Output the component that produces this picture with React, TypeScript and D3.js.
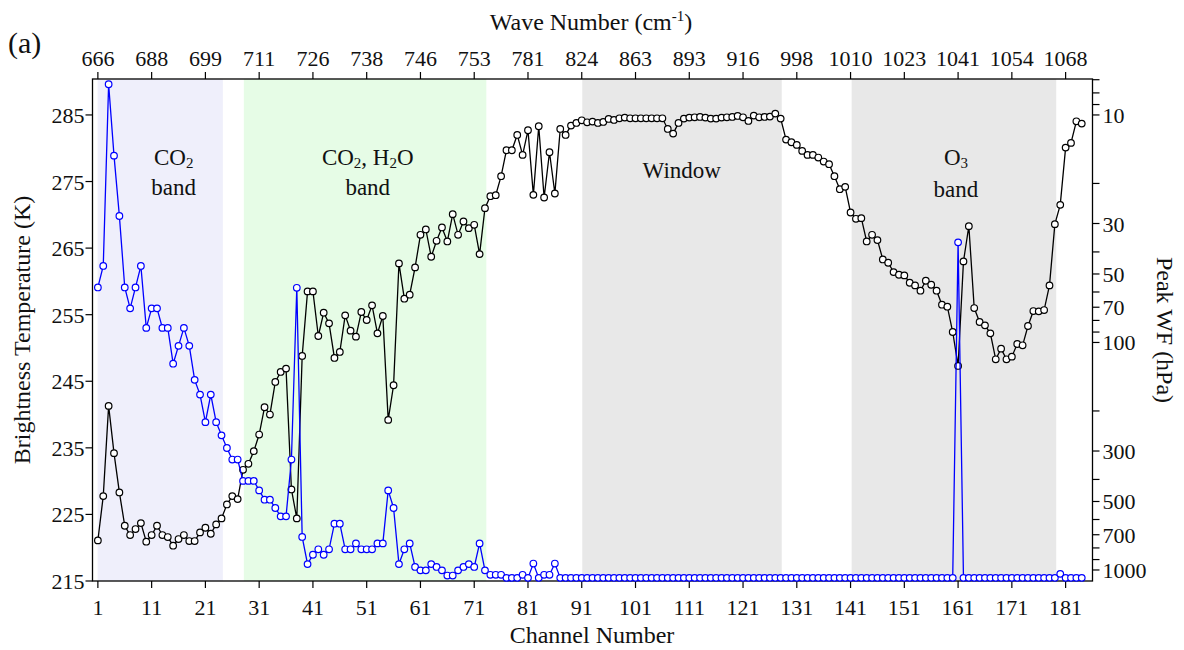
import React from "react";
import * as d3 from "d3";

// ---------- data ----------
const channels: number[] = d3.range(1, 185);

const brightnessTemp: number[] = [
  221.1, 227.75, 241.3, 234.2, 228.3, 223.3, 221.9, 222.8, 223.7, 220.9,
  221.9, 223.3, 221.9, 221.6, 220.3, 221.3, 221.9, 221.0, 221.0, 222.3,
  223.0, 222.1, 223.5, 224.4, 226.5, 227.75, 227.3, 231.7, 232.6, 234.5,
  237.0, 241.1, 240.0, 244.9, 246.4, 246.9, 228.75, 224.4, 248.8, 258.5,
  258.5, 251.8, 255.3, 253.7, 248.5, 249.4, 254.9, 252.6, 251.7, 255.4,
  254.2, 256.4, 252.2, 254.8, 239.2, 244.4, 262.7, 257.4, 258.0, 262.1,
  267.0, 267.8, 263.7, 266.1, 268.1, 266.0, 270.1, 267.0, 269.0, 268.0,
  268.5, 264.1, 271.0, 272.8, 272.95, 275.8, 279.7, 279.7, 282.0, 279.0,
  282.7, 273.0, 283.3, 272.6, 279.4, 273.2, 282.9, 282.0, 283.4, 283.8,
  284.2, 283.9, 284.0, 283.8, 283.95, 284.4, 284.25, 284.5, 284.6, 284.5,
  284.5, 284.5, 284.5, 284.5, 284.5, 284.5, 282.9, 282.2, 283.8, 284.45,
  284.6, 284.65, 284.7, 284.6, 284.45, 284.45, 284.6, 284.65, 284.7, 284.85,
  284.65, 284.1, 284.9, 284.65, 284.7, 284.75, 285.2, 284.45, 281.3, 280.9,
  280.5, 279.6, 279.0, 279.0, 278.6, 278.0, 277.6, 275.8, 273.85, 274.2,
  270.35, 269.4, 269.5, 266.0, 267.0, 266.2, 263.3, 262.8, 261.4, 261.0,
  260.9, 259.8, 259.4, 258.6, 260.1, 259.5, 258.6, 256.5, 256.2, 252.4,
  247.3, 263.0, 268.3, 256.0, 253.9, 253.4, 252.2, 248.3, 249.9, 248.3,
  248.7, 250.6, 250.4, 253.3, 255.55, 255.5, 255.7, 259.4, 268.6, 271.5,
  280.1, 280.8, 284.05, 283.7,
];

const peakWF: number[] = [
  57.3, 46.1, 7.33, 15.1, 27.8, 57.3, 70.8, 57.3, 46.1, 86.3,
  70.8, 70.8, 86.3, 86.3, 124, 103.5, 86.3, 103.5, 146, 169.5,
  224, 169.5, 224, 256, 291, 327, 327, 406, 406, 406,
  447, 491, 491, 534, 581, 581, 327, 57.5, 716, 942,
  857, 811, 857, 811, 626, 626, 811, 811, 764, 811,
  811, 811, 764, 764, 447, 534, 942, 811, 764, 970,
  1004, 1004, 942, 970, 1004, 1058, 1058, 1004, 970, 942,
  970, 764, 1004, 1050, 1050, 1050, 1083, 1083, 1083, 1050,
  1083, 937, 1083, 1050, 1050, 937, 1083, 1083, 1083, 1083,
  1083, 1083, 1083, 1083, 1083, 1083, 1083, 1083, 1083, 1083,
  1083, 1083, 1083, 1083, 1083, 1083, 1083, 1083, 1083, 1083,
  1083, 1083, 1083, 1083, 1083, 1083, 1083, 1083, 1083, 1083,
  1083, 1083, 1083, 1083, 1083, 1083, 1083, 1083, 1083, 1083,
  1083, 1083, 1083, 1083, 1083, 1083, 1083, 1083, 1083, 1083,
  1083, 1083, 1083, 1083, 1083, 1083, 1083, 1083, 1083, 1083,
  1083, 1083, 1083, 1083, 1083, 1083, 1083, 1083, 1083, 1083,
  36.3, 1083, 1083, 1083, 1083, 1083, 1083, 1083, 1083, 1083,
  1083, 1083, 1083, 1083, 1083, 1083, 1083, 1083, 1083, 1040,
  1083, 1083, 1083, 1083,
];

const channelTicks: number[] = [1, 11, 21, 31, 41, 51, 61, 71, 81, 91, 101, 111, 121, 131, 141, 151, 161, 171, 181];
const waveNumberLabels: string[] = ["666", "688", "699", "711", "726", "738", "746", "753", "781", "824", "863", "893", "916", "998", "1010", "1023", "1041", "1054", "1068"];
const tempTicks: number[] = [215, 225, 235, 245, 255, 265, 275, 285];
const pressureTicks: number[] = [7, 8, 9, 10, 20, 30, 40, 50, 60, 70, 80, 90, 100, 200, 300, 400, 500, 600, 700, 800, 900, 1000];
const pressureLabels: number[] = [10, 30, 50, 70, 100, 300, 500, 700, 1000];

const bandStarts: number[] = [0.95, 28.15, 91.1, 141.2];
const bandEnds: number[] = [24.25, 73.25, 128.2, 179.25];
const bandColors: string[] = ["#efeffb", "#e6fce6", "#e8e8e8", "#e8e8e8"];

// ---------- layout ----------
const W = 1184;
const H = 650;
const L = 92.5;
const R = 1092.5;
const T = 79;
const B = 581;
const FONT = "'Liberation Serif', 'Times New Roman', serif";
const BLUE = "#0000ff";
const TICK_FS = 22;
const TITLE_FS = 24;
const BAND_FS = 23;

export default function App() {
  const x = d3.scaleLinear().domain([0, 186]).range([L, R]);
  const yT = d3.scaleLinear().domain([215, 290.4]).range([B, T]);
  const yP = d3.scaleLog().domain([1118, 6.95]).range([B, T]);

  const lineT = d3
    .line<number>()
    .x((_, i) => x(channels[i]))
    .y((d) => yT(d));
  const lineP = d3
    .line<number>()
    .x((_, i) => x(channels[i]))
    .y((d) => yP(d));

  const tick = 7;

  return (
    <svg
      width={W}
      height={H}
      style={{ position: "absolute", left: 0, top: 0, display: "block", background: "#fff" }}
      fontFamily={FONT}
    >
      {/* bands */}
      {bandStarts.map((s, i) => (
        <rect
          key={"band" + i}
          x={x(s)}
          y={T}
          width={x(bandEnds[i]) - x(s)}
          height={B - T}
          fill={bandColors[i]}
        />
      ))}

      {/* band labels */}
      <g fontSize={BAND_FS} fill="#111" textAnchor="middle">
        <text x={x(15.1)} y={165}>
          CO<tspan fontSize={15} dy={3}>2</tspan>
        </text>
        <text x={x(15.1)} y={195}>band</text>
        <text x={x(51.2)} y={165}>
          CO<tspan fontSize={15} dy={3}>2</tspan>
          <tspan dy={-3}>, H</tspan>
          <tspan fontSize={15} dy={3}>2</tspan>
          <tspan dy={-3}>O</tspan>
        </text>
        <text x={x(51.2)} y={195}>band</text>
        <text x={x(109.6)} y={178}>Window</text>
        <text x={x(160.6)} y={165}>
          O<tspan fontSize={15} dy={3}>3</tspan>
        </text>
        <text x={x(160.6)} y={197}>band</text>
      </g>

      {/* frame */}
      <rect x={L} y={T} width={R - L} height={B - T} fill="none" stroke="#000" strokeWidth={1.3} />

      {/* bottom axis */}
      {channelTicks.map((c) => (
        <g key={"bt" + c}>
          <line x1={x(c)} x2={x(c)} y1={B} y2={B + tick} stroke="#000" strokeWidth={1.2} />
          <text x={x(c)} y={B + 34} fontSize={TICK_FS} textAnchor="middle" fill="#111">
            {c}
          </text>
        </g>
      ))}
      <text x={592} y={643} fontSize={TITLE_FS} textAnchor="middle" fill="#111">
        Channel Number
      </text>

      {/* top axis */}
      {channelTicks.map((c, i) => (
        <g key={"tt" + c}>
          <line x1={x(c)} x2={x(c)} y1={T} y2={T - tick} stroke="#000" strokeWidth={1.2} />
          <text x={x(c)} y={T - 13} fontSize={TICK_FS} textAnchor="middle" fill="#111">
            {waveNumberLabels[i]}
          </text>
        </g>
      ))}
      <text x={591} y={30} fontSize={TITLE_FS} textAnchor="middle" fill="#111">
        Wave Number (cm<tspan fontSize={15} dy={-9}>-1</tspan>
        <tspan dy={9}>)</tspan>
      </text>
      <text x={8} y={53} fontSize={30} fill="#111">
        (a)
      </text>

      {/* left axis */}
      {tempTicks.map((t) => (
        <g key={"lt" + t}>
          <line x1={L} x2={L - tick} y1={yT(t)} y2={yT(t)} stroke="#000" strokeWidth={1.2} />
          <text x={L - 8} y={yT(t) + 8} fontSize={TICK_FS} textAnchor="end" fill="#111">
            {t}
          </text>
        </g>
      ))}
      <text
        transform={`translate(30, 330) rotate(-90)`}
        fontSize={TITLE_FS}
        textAnchor="middle"
        fill="#111"
      >
        Brightness Temperature (K)
      </text>

      {/* right axis */}
      {pressureTicks.map((p) => (
        <line key={"rt" + p} x1={R} x2={R + tick} y1={yP(p)} y2={yP(p)} stroke="#000" strokeWidth={1.2} />
      ))}
      {pressureLabels.map((p) => (
        <text key={"rl" + p} x={R + 10} y={yP(p) + 8} fontSize={TICK_FS} textAnchor="start" fill="#111">
          {p}
        </text>
      ))}
      <text
        transform={`translate(1157, 330) rotate(90)`}
        fontSize={TITLE_FS}
        textAnchor="middle"
        fill="#111"
      >
        Peak WF (hPa)
      </text>

      {/* brightness temperature series */}
      <path d={lineT(brightnessTemp) || ""} fill="none" stroke="#000" strokeWidth={1.3} />
      {brightnessTemp.map((v, i) => (
        <circle key={"bc" + i} cx={x(channels[i])} cy={yT(v)} r={3.3} fill="#fff" stroke="#000" strokeWidth={1.2} />
      ))}

      {/* peak weighting function series */}
      <path d={lineP(peakWF) || ""} fill="none" stroke={BLUE} strokeWidth={1.3} />
      {peakWF.map((v, i) => (
        <circle key={"pc" + i} cx={x(channels[i])} cy={yP(v)} r={3.3} fill="#fff" stroke={BLUE} strokeWidth={1.2} />
      ))}
    </svg>
  );
}
